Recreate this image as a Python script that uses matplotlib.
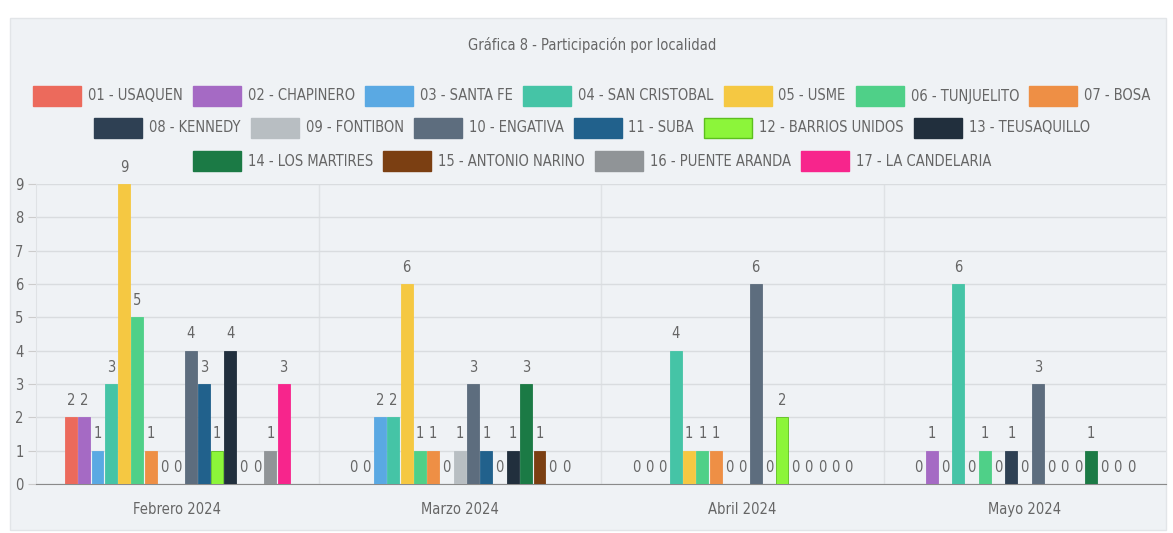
import matplotlib.pyplot as plt
from matplotlib.patches import Rectangle
import numpy as np

plt.rcParams['font.family'] = ['DejaVu Sans']
plt.rcParams['font.stretch'] = 'condensed'

# Datos
meses = ["Febrero 2024", "Marzo 2024", "Abril 2024", "Mayo 2024"]
localidades = ["01 - USAQUEN", "02 - CHAPINERO", "03 - SANTA FE", "04 - SAN CRISTOBAL",
               "05 - USME", "06 - TUNJUELITO", "07 - BOSA", "08 - KENNEDY",
               "09 - FONTIBON", "10 - ENGATIVA", "11 - SUBA", "12 - BARRIOS UNIDOS",
               "13 - TEUSAQUILLO", "14 - LOS MARTIRES", "15 - ANTONIO NARINO",
               "16 - PUENTE ARANDA", "17 - LA CANDELARIA"]
colores = ["#ec6a5c", "#a56ac4", "#5aa9e3", "#45c4a6", "#f5c842", "#4fd088", "#ee8f45",
           "#2e4053", "#b8bec2", "#5d6d7e", "#21618c", "#8cf53a", "#212f3d",
           "#1b7a45", "#7b3f12", "#909497", "#f7258c"]
febrero = [2, 2, 1, 3, 9, 5, 1, 0, 0, 4, 3, 1, 4, 0, 0, 1, 3]
marzo = [0, 0, 2, 2, 6, 1, 1, 0, 1, 3, 1, 0, 1, 3, 1, 0, 0]
abril = [0, 0, 0, 4, 1, 1, 1, 0, 0, 6, 0, 2, 0, 0, 0, 0, 0]
mayo = [0, 1, 0, 6, 0, 1, 0, 1, 0, 3, 0, 0, 0, 1, 0, 0, 0]

valores = np.array([febrero, marzo, abril, mayo]).T  # filas = localidades

W, H = 1173, 533
fig = plt.figure(figsize=(W / 100, H / 100), dpi=100)
fig.patch.set_facecolor("white")

# Panel de fondo
fondo = "#eff2f5"
fig.patches.append(Rectangle((10 / W, 3 / H), 1156 / W, 512 / H, transform=fig.transFigure,
                             facecolor=fondo, edgecolor="#e2e5e8", lw=1, zorder=-5))

ax = fig.add_axes([36 / W, 49 / H, 1130 / W, 300 / H])
ax.set_facecolor(fondo)

n = len(localidades)
slot = 0.8 / n
x = np.arange(len(meses))
for j in range(n):
    pos = x + (j - (n - 1) / 2) * slot
    ec = "#5cbf1e" if j == 11 else colores[j]
    ax.bar(pos, valores[j], width=slot * 0.9, color=colores[j], edgecolor=ec, lw=0.6, zorder=3)
    for px, v in zip(pos, valores[j]):
        ax.annotate(str(v), (px, v), xytext=(0, 17), textcoords="offset pixels",
                    ha="center", va="center", fontsize=10.5, color="#666666", zorder=4,
                    annotation_clip=False)

ax.set_xlim(-0.5, len(meses) - 0.5)
ax.set_ylim(0, 9)
ax.set_yticks(range(10))
ax.set_xticks(x)
ax.set_xticklabels(meses)
ax.tick_params(axis="y", length=6, color="#cccccc", labelcolor="#666666", labelsize=10.5, pad=3)
ax.tick_params(axis="x", length=0, labelcolor="#666666", labelsize=10.5, pad=13)
ax.grid(axis="y", color="#d9dcdf", lw=1, zorder=1)
for b in x[:-1] + 0.5:
    ax.axvline(b, color="#dfe2e5", lw=1, zorder=1)
for s in ["top", "right"]:
    ax.spines[s].set_visible(False)
ax.spines["left"].set_color("#dfe2e5")
ax.spines["bottom"].set_color("#8a8a8a")

# Titulo
fig.text(592 / W, 1 - 45 / H, "Gráfica 8 - Participación por localidad", ha="center",
         va="center", fontsize=10.5, color="#666666")

# Leyenda centrada en tres filas
filas = [range(0, 7), range(7, 13), range(13, 17)]
filas_y = [96, 128, 161]
caja_w, caja_h, sep_txt, sep_item = 48, 20, 7, 10
renderer = fig.canvas.get_renderer()
for fila, yy in zip(filas, filas_y):
    textos = []
    for j in fila:
        t = fig.text(0, 1 - yy / H, localidades[j], ha="left", va="center",
                     fontsize=10.5, color="#666666")
        textos.append(t)
    anchos = [t.get_window_extent(renderer).width for t in textos]
    total = sum(caja_w + sep_txt + a for a in anchos) + sep_item * (len(anchos) - 1)
    cx = 592 - total / 2
    for j, t, a in zip(fila, textos, anchos):
        ec = "#5cbf1e" if j == 11 else colores[j]
        fig.patches.append(Rectangle((cx / W, 1 - (yy + caja_h / 2) / H), caja_w / W, caja_h / H,
                                     transform=fig.transFigure, facecolor=colores[j],
                                     edgecolor=ec, lw=1))
        t.set_x((cx + caja_w + sep_txt) / W)
        cx += caja_w + sep_txt + a + sep_item

fig.savefig("out.png", dpi=100, facecolor="white")
